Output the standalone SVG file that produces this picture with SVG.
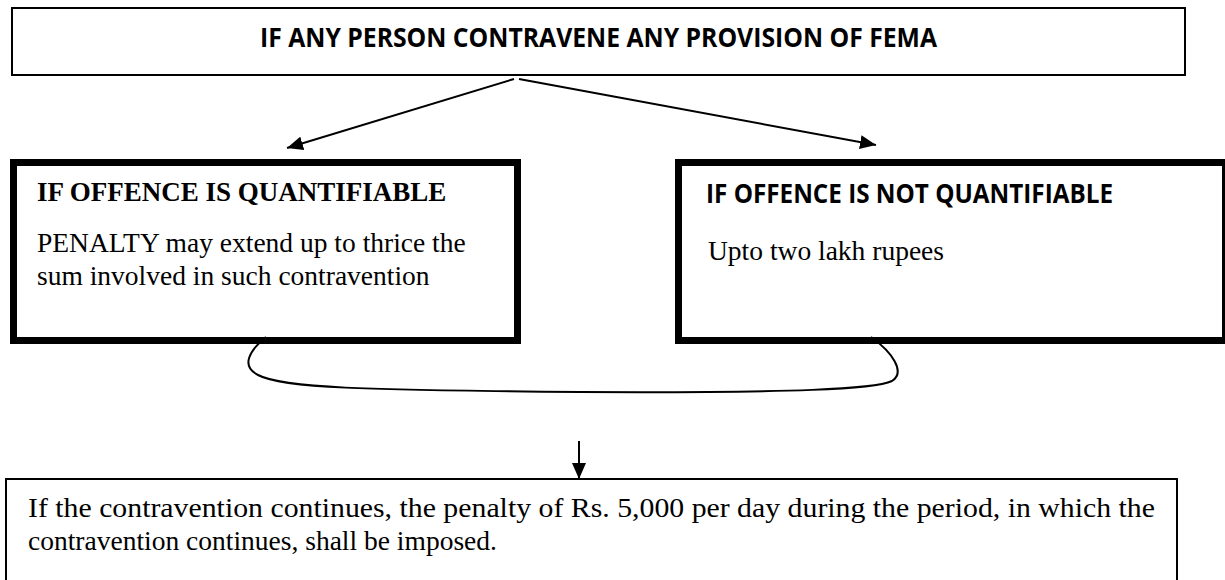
<svg xmlns="http://www.w3.org/2000/svg" width="1225" height="580" viewBox="0 0 1225 580">
  <style>
    .box { fill: #ffffff; stroke: #000000; }
    .thin { stroke-width: 2; }
    .thick { stroke-width: 7; }
    .head { font-family: "Open Sans", "Liberation Sans", sans-serif; font-weight: 700; font-size: 26px; fill: #000000; }
    .serif { font-family: "Liberation Serif", "Times New Roman", serif; font-size: 27.5px; fill: #000000; }
    .serif-b { font-family: "Liberation Serif", "Times New Roman", serif; font-weight: 700; font-size: 27px; fill: #000000; }
    .wire { fill: none; stroke: #000000; stroke-width: 2; }
  </style>
  <defs>
    <marker id="arrow" markerUnits="userSpaceOnUse" markerWidth="16" markerHeight="14" refX="16" refY="7" orient="auto">
      <path d="M0,0 L16,7 L0,14 Z" fill="#000000"/>
    </marker>
  </defs>

  <rect x="0" y="0" width="1225" height="580" fill="#ffffff"/>

  <!-- top condition -->
  <g id="node-contravene">
    <rect class="box thin" x="12" y="8" width="1173" height="67"/>
    <text class="head" x="260" y="47" textLength="677" lengthAdjust="spacingAndGlyphs">IF ANY PERSON CONTRAVENE ANY PROVISION OF FEMA</text>
  </g>

  <!-- quantifiable branch -->
  <g id="node-quantifiable">
    <rect class="box thick" x="13.5" y="162.5" width="504" height="178"/>
    <text class="serif-b" x="37" y="201">IF OFFENCE IS QUANTIFIABLE</text>
    <text class="serif" x="37" y="252">PENALTY may extend up to thrice the</text>
    <text class="serif" x="37" y="285">sum involved in such contravention</text>
  </g>

  <!-- non-quantifiable branch -->
  <g id="node-not-quantifiable">
    <rect class="box thick" x="678.5" y="162.5" width="547" height="178"/>
    <text class="head" x="706" y="203" textLength="407" lengthAdjust="spacingAndGlyphs">IF OFFENCE IS NOT QUANTIFIABLE</text>
    <text class="serif" x="708" y="260">Upto two lakh rupees</text>
  </g>

  <!-- continuing contravention -->
  <g id="node-continuing">
    <rect class="box thin" x="6" y="479" width="1171" height="120"/>
    <text class="serif" x="28" y="517" textLength="1127" lengthAdjust="spacingAndGlyphs">If the contravention continues, the penalty of Rs. 5,000 per day during the period, in which the</text>
    <text class="serif" x="28" y="550">contravention continues, shall be imposed.</text>
  </g>

  <g id="connectors">
    <line class="wire" x1="514" y1="79" x2="287" y2="148" marker-end="url(#arrow)"/>
    <line class="wire" x1="519" y1="79" x2="876" y2="145" marker-end="url(#arrow)"/>
    <path class="wire" d="M266,337 C250,350 240,366 258,375 C282,388 360,390 580,392 C800,393 875,389 892,381 C906,372 892,352 871,337"/>
    <line class="wire" x1="579" y1="441" x2="579" y2="479" stroke-width="1.5" marker-end="url(#arrow)"/>
  </g>
</svg>
